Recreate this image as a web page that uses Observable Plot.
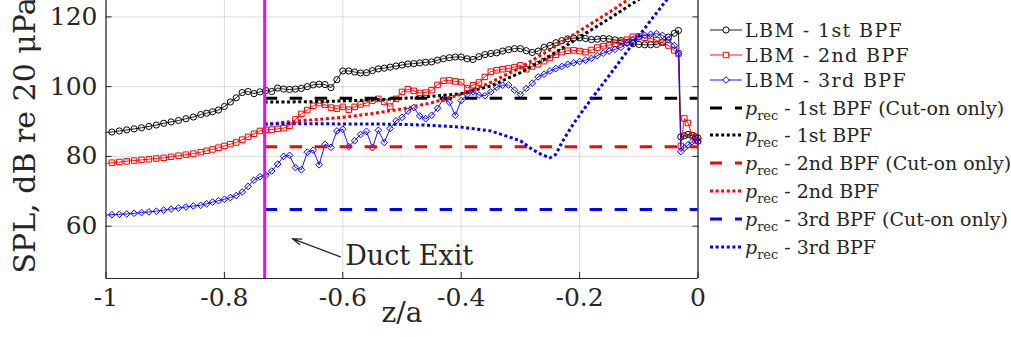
<!DOCTYPE html>
<html><head><meta charset="utf-8">
<script src="https://cdn.jsdelivr.net/npm/d3@7"></script>
<script src="https://cdn.jsdelivr.net/npm/@observablehq/plot@0.6"></script>
<style>
html,body{margin:0;padding:0;background:#fff;}
#wrap{position:relative;width:1011px;height:337px;overflow:hidden;background:#fff;}
#legend{position:absolute;left:0;top:0;font-family:"DejaVu Serif",serif;color:#262626;font-size:19px;}
.row{position:absolute;left:706px;height:24px;display:flex;align-items:center;white-space:nowrap;}
.row svg{width:38px;height:24px;margin-right:1px;flex:none;}
.row sub{font-size:0.68em;vertical-align:-0.38em;line-height:0;}
.row.lbm span{letter-spacing:1.4px;}
</style></head><body><div id="wrap"><div id="plot"></div><div id="legend"></div></div>
<script>
// ---------- data ----------
const xTicks = [-1, -0.8, -0.6, -0.4, -0.2, 0];
const yTicks = [60, 80, 100, 120];

// LBM probe positions (z/a)
const lbmX = [-1, -0.99, -0.9775, -0.965, -0.9525, -0.94, -0.9275, -0.915, -0.9025, -0.89, -0.8775, -0.865, -0.8525,
  -0.84, -0.83, -0.82, -0.81, -0.80, -0.79, -0.78, -0.77, -0.76, -0.75,
  -0.74, -0.73, -0.72, -0.71, -0.70, -0.69, -0.68, -0.67, -0.66, -0.65,
  -0.64, -0.63, -0.62, -0.61, -0.60, -0.59, -0.58, -0.57, -0.56, -0.55,
  -0.54, -0.53, -0.52, -0.51, -0.50, -0.49, -0.48, -0.47, -0.46, -0.45,
  -0.44, -0.43, -0.42, -0.41, -0.40, -0.39, -0.38, -0.37, -0.36, -0.35,
  -0.34, -0.33, -0.32, -0.31, -0.30, -0.29, -0.28, -0.27, -0.26, -0.25,
  -0.24, -0.23, -0.22, -0.21, -0.20, -0.19, -0.18, -0.17, -0.16, -0.15,
  -0.14, -0.13, -0.12, -0.11, -0.10, -0.09, -0.08, -0.07, -0.06, -0.05,
  -0.04];
const lbm1 = [86.9, 87.0, 87.3, 87.6, 87.9, 88.2, 88.6, 89.0, 89.5, 89.9, 90.3, 90.8, 91.3,
  92.0, 92.4, 92.8, 93.3, 94.3, 95.6, 96.8, 98.3, 98.6, 98.0,
  98.5, 98.9, 98.6, 99.6, 99.3, 99.2, 99.3, 99.5, 100.0, 100.5,
  100.7, 100.6, 99.7, 102.0, 104.5, 104.5, 104.2, 103.9, 104.0, 104.6,
  105.1, 105.3, 105.6, 105.9, 106.2, 106.5, 106.6, 106.8, 107.0, 107.1,
  107.6, 108.0, 108.3, 108.5, 108.5, 108.0, 107.8, 108.6, 109.2, 109.5,
  109.7, 110.2, 110.6, 110.9, 110.9, 110.3, 109.8, 110.2, 111.3, 111.8,
  112.6, 113.2, 113.7, 113.9, 114.0, 113.8, 113.5, 113.6, 113.8, 113.7,
  113.4, 113.2, 112.7, 112.3, 112.1, 112.0, 112.0, 112.1, 112.8, 114.2,
  115.3];
const lbm2 = [78.0, 78.2, 78.4, 78.6, 78.8, 79.0, 79.2, 79.4, 79.6, 79.9, 80.2, 80.5, 80.8,
  81.2, 81.6, 82.0, 82.5, 83.0, 83.5, 84.0, 84.8, 85.6, 86.5,
  87.3, 87.6, 87.7, 87.9, 88.1, 88.8, 90.6, 92.2, 93.3, 94.5,
  95.3, 94.8, 94.0, 93.7, 94.2, 93.4, 94.2, 94.9, 95.3, 96.0,
  96.5, 95.6, 94.3, 96.5, 98.5, 99.3, 98.8, 98.2, 98.3, 99.0,
  100.5, 101.7, 101.8, 101.5, 101.3, 99.6, 100.4, 101.2, 102.8, 104.3,
  104.7, 105.0, 105.2, 105.6, 106.1, 105.0, 105.8, 106.4, 107.3, 108.2,
  109.1, 109.9, 110.3, 110.4, 110.2, 109.9, 110.5, 111.2, 111.6, 111.9,
  112.3, 112.8, 113.5, 114.3, 114.4, 114.0, 113.8, 113.3, 112.6, 111.8,
  110.4];
const lbm3 = [63.2, 63.3, 63.4, 63.5, 63.7, 63.9, 64.1, 64.3, 64.6, 64.9, 65.2, 65.5, 65.8,
  66.0, 66.4, 66.9, 67.3, 67.7, 68.2, 68.8, 69.8, 71.4, 73.2,
  74.2, 74.6, 75.8, 77.8, 80.0, 80.3, 76.8, 76.2, 81.2, 81.8,
  77.6, 83.5, 82.6, 87.3, 87.8, 82.8, 84.5, 86.3, 87.2, 82.5,
  87.5, 84.0, 88.0, 90.2, 91.2, 93.0, 94.0, 91.6, 90.8, 91.8,
  93.8, 96.5, 95.5, 91.8, 96.0, 97.8, 98.5, 97.6, 97.4, 98.5,
  99.8, 100.4, 100.5, 99.0, 97.8, 99.5, 101.0, 102.8, 103.6, 104.5,
  105.2, 105.8, 106.4, 106.8, 107.2, 107.6, 108.1, 108.9, 109.6, 110.2,
  110.7, 111.3, 112.4, 113.4, 114.2, 114.7, 115.0, 115.2, 114.7, 113.5,
  111.8];
// probes beyond the duct lip
const tailX = [-0.033, -0.029, -0.023, -0.017, -0.010, -0.004, 0];
const tail1 = [116.1, 85.6, 85.9, 86.3, 86.0, 85.6, 85.3];
const tail2 = [109.5, 83.0, 90.9, 89.6, 86.1, 84.7, 84.4];
const tail3 = [109.5, 81.4, 82.4, 83.3, 84.2, 85.2, 84.3];

// p_rec, cut-on modes only
const cutX = [-0.732, 0];
const cut1 = [96.7, 96.7];
const cut2 = [82.8, 82.8];
const cut3 = [64.8, 64.8];

// p_rec, all modes
const precX1 = [-0.732, -0.70, -0.65, -0.60, -0.55, -0.50, -0.45, -0.40, -0.35, -0.30, -0.25, -0.20, -0.15, -0.10, -0.08];
const prec1  = [95.6, 95.6, 95.7, 95.9, 96.2, 96.6, 97.2, 98.0, 100.2, 104.0, 108.8, 114.2, 119.5, 125.0, 127.5];
const precX2 = [-0.732, -0.70, -0.65, -0.60, -0.55, -0.50, -0.45, -0.40, -0.35, -0.30, -0.25, -0.20, -0.15, -0.10];
const prec2  = [89.0, 89.8, 90.5, 91.2, 92.3, 93.6, 95.4, 97.8, 101.2, 105.5, 110.6, 116.0, 121.3, 127.0];
const precX3 = [-0.732, -0.70, -0.65, -0.60, -0.55, -0.50, -0.45, -0.40, -0.35, -0.30, -0.28, -0.265, -0.25, -0.24, -0.23, -0.21, -0.18, -0.15, -0.13, -0.10, -0.08, -0.05];
const prec3  = [89.4, 89.4, 89.4, 89.3, 89.3, 89.2, 88.9, 88.4, 87.3, 84.5, 82.0, 80.6, 79.6, 80.6, 84.0, 89.5, 96.5, 103.2, 107.8, 114.5, 119.0, 125.5];

// duct exit marker and annotation
const ductExitX = [-0.732];
const noteText = ["Duct Exit"];
const noteX = [-0.596];
const noteY = [51.3];
const arrowX1 = [-0.604], arrowY1 = [51.2], arrowX2 = [-0.6855], arrowY2 = [56.45];

const legendLabels = ["LBM - 1st BPF", "LBM - 2nd BPF", "LBM - 3rd BPF",
  " - 1st BPF (Cut-on only)", " - 1st BPF", " - 2nd BPF (Cut-on only)", " - 2nd BPF",
  " - 3rd BPF (Cut-on only)", " - 3rd BPF"];
const legendKinds = ["circle", "square", "diamond", "dash", "dot", "dash", "dot", "dash", "dot"];
const legendColors = ["#000000", "#ff0000", "#0000ff", "#000000", "#000000", "#ff0000", "#ff0000", "#0000ff", "#0000ff"];

// ---------- build ----------
const rows = (xs, ys) => xs.map((x, i) => ({x, y: ys[i]}));
const L1 = rows(lbmX.concat(tailX), lbm1.concat(tail1));
const L2 = rows(lbmX.concat(tailX), lbm2.concat(tail2));
const L3 = rows(lbmX.concat(tailX), lbm3.concat(tail3));

const ink = "#262626";
const dashArr = "12.5,12.5";
const dotArr = "3,2.6";
const symR = {circle: 3.1, square: 3.1, diamond2: 3.0};

const lbmMarks = (data, color, symbol) => [
  Plot.line(data, {x: "x", y: "y", stroke: color, strokeWidth: 0.9, clip: true}),
  Plot.dot(data.slice(1), {x: "x", y: "y", symbol, r: symR[symbol], stroke: color, strokeWidth: 1, fill: "none"})
];
const precLine = (xs, ys, color, dash) =>
  Plot.line(rows(xs, ys), {x: "x", y: "y", stroke: color, strokeWidth: 3, strokeDasharray: dash, strokeLinecap: "butt", strokeLinejoin: "miter", clip: true});

const chart = Plot.plot({
  width: 1011,
  height: 337,
  marginLeft: 105.5,
  marginRight: 313.5,
  marginTop: 0,
  marginBottom: 59,
  style: {fontFamily: "DejaVu Serif, serif", color: ink, background: "#fff", overflow: "hidden"},
  x: {domain: [-1, 0]},
  y: {domain: [45, 124.7]},
  marks: [
    Plot.gridX({ticks: xTicks, stroke: "#000", strokeOpacity: 0.14}),
    Plot.gridY({ticks: yTicks, stroke: "#000", strokeOpacity: 0.14}),
    ...lbmMarks(L1, "#000000", "circle"),
    ...lbmMarks(L2, "#ff0000", "square"),
    ...lbmMarks(L3, "#0000ff", "diamond2"),
    precLine(cutX, cut1, "#000000", dashArr),
    precLine(precX1, prec1, "#000000", dotArr),
    precLine(cutX, cut2, "#ff0000", dashArr),
    precLine(precX2, prec2, "#ff0000", dotArr),
    precLine(cutX, cut3, "#0000ff", dashArr),
    precLine(precX3, prec3, "#0000ff", dotArr),
    Plot.ruleX(ductExitX, {stroke: "#ff00ff", strokeWidth: 3}),
    Plot.arrow(arrowX1.map((d, i) => ({x1: d, y1: arrowY1[i], x2: arrowX2[i], y2: arrowY2[i]})),
      {x1: "x1", y1: "y1", x2: "x2", y2: "y2", stroke: ink, strokeWidth: 1.3, headLength: 11, headAngle: 35}),
    Plot.text(noteText.map((t, i) => ({t, x: noteX[i], y: noteY[i]})),
      {x: "x", y: "y", text: "t", textAnchor: "start", fontSize: 27, fill: ink}),
    Plot.ruleY([45], {stroke: ink, strokeWidth: 1.2}),
    Plot.ruleX([-1, 0], {stroke: ink, strokeWidth: 1.2}),
    Plot.axisX({ticks: xTicks, tickSize: -6, tickPadding: 16, tickFormat: d => String(d), fontSize: 25, label: null}),
    Plot.axisY({ticks: yTicks, anchor: "left", tickSize: -6, tickPadding: 14.5, tickFormat: d => String(d), fontSize: 25, label: null}),
    Plot.axisY({ticks: yTicks, anchor: "right", tickSize: -6, tickFormat: () => "", label: null}),
    Plot.text(["z/a"], {frameAnchor: "bottom", dy: 35, lineAnchor: "middle", textAnchor: "middle", fontSize: 28, fill: ink}),
    Plot.text(["SPL, dB re 20 μPa"], {frameAnchor: "left", dx: -81, dy: -4, rotate: -90, textAnchor: "middle", lineAnchor: "middle", fontSize: 30, fill: ink})
  ]
});
document.getElementById("plot").appendChild(chart);

// ---------- legend ----------
const rowCenters = [30, 54.5, 80, 107.5, 135, 163, 191, 218.5, 246.5];
const legend = document.getElementById("legend");
const NS = "http://www.w3.org/2000/svg";
legendLabels.forEach((label, i) => {
  const row = document.createElement("div");
  row.className = i < 3 ? "row lbm" : "row";
  row.style.top = (rowCenters[i] - 12) + "px";
  const svg = document.createElementNS(NS, "svg");
  const kind = legendKinds[i], color = legendColors[i];
  const line = document.createElementNS(NS, "line");
  line.setAttribute("x1", 4); line.setAttribute("x2", 36);
  line.setAttribute("y1", 12); line.setAttribute("y2", 12);
  line.setAttribute("stroke", color);
  if (kind === "dash" || kind === "dot") {
    line.setAttribute("stroke-width", 3);
    line.setAttribute("stroke-dasharray", kind === "dash" ? "12,13" : dotArr);
  } else line.setAttribute("stroke-width", 0.9);
  svg.appendChild(line);
  if (kind === "circle" || kind === "square" || kind === "diamond") {
    const sym = kind === "circle" ? d3.symbolCircle : kind === "square" ? d3.symbolSquare : d3.symbolDiamond2;
    const r = kind === "circle" ? symR.circle : kind === "square" ? symR.square : symR.diamond2;
    const p = document.createElementNS(NS, "path");
    p.setAttribute("d", d3.symbol(sym, Math.PI * r * r)());
    p.setAttribute("transform", "translate(20,12)");
    p.setAttribute("fill", "#fff"); p.setAttribute("stroke", color); p.setAttribute("stroke-width", 1);
    svg.appendChild(p);
  }
  row.appendChild(svg);
  const span = document.createElement("span");
  if (i >= 3) {
    span.innerHTML = "<i>p</i><sub>rec</sub>";
    span.appendChild(document.createTextNode(label));
  } else span.textContent = label;
  row.appendChild(span);
  legend.appendChild(row);
});
</script></body></html>
